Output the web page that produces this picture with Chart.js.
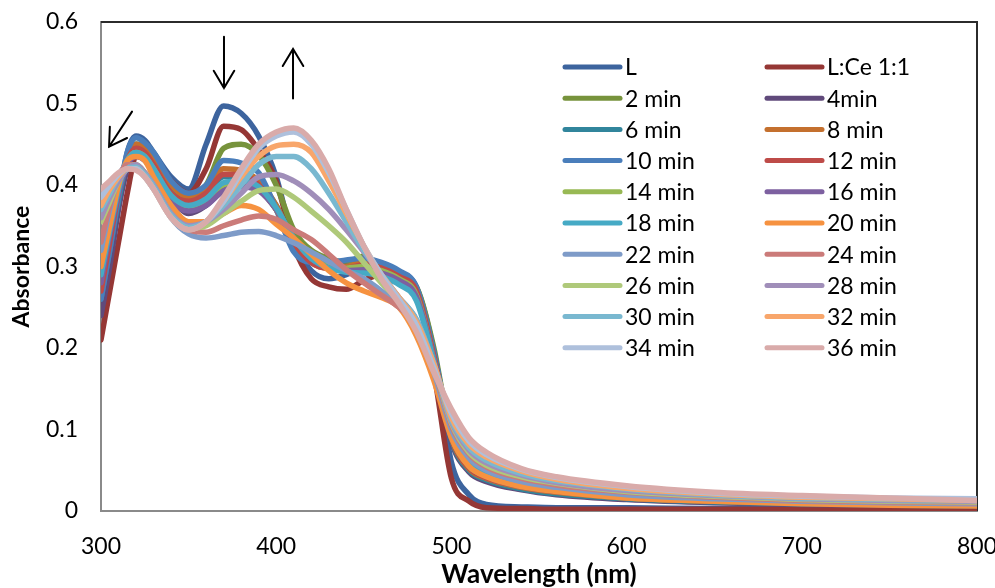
<!DOCTYPE html>
<html>
<head>
<meta charset="utf-8">
<script src="https://cdn.jsdelivr.net/npm/chart.js@4.4.1/dist/chart.umd.min.js"></script>
<style>
  html, body { margin: 0; padding: 0; background: #ffffff; }
  #wrap { width: 995px; height: 588px; }
</style>
</head>
<body>
<div id="wrap"><canvas id="spectra" width="995" height="588"></canvas></div>
<script>
// wavelengths (nm) shared by every spectrum
const wavelengths = [300, 305, 310, 315, 320, 325, 330, 340, 350, 360, 370, 380, 390, 400, 410, 420, 430, 440, 450, 460, 470, 480, 490, 500, 510, 520, 540, 560, 600, 650, 700, 750, 800];

// absorbance per spectrum
const absL   = [0.25, 0.31, 0.38, 0.44, 0.46, 0.455, 0.44, 0.41, 0.395, 0.45, 0.497, 0.488, 0.46, 0.41, 0.33, 0.295, 0.285, 0.29, 0.30, 0.302, 0.293, 0.275, 0.195, 0.06, 0.02, 0.008, 0.005, 0.004, 0.004, 0.003, 0.003, 0.003, 0.003];
const absLCe = [0.21, 0.27, 0.33, 0.39, 0.44, 0.45, 0.435, 0.405, 0.39, 0.42, 0.472, 0.468, 0.443, 0.405, 0.325, 0.285, 0.275, 0.272, 0.283, 0.29, 0.285, 0.27, 0.17, 0.04, 0.012, 0.004, 0.003, 0.002, 0.002, 0.002, 0.002, 0.002, 0.002];
const abs2   = [0.26, 0.32, 0.38, 0.43, 0.45, 0.445, 0.43, 0.40, 0.385, 0.40, 0.445, 0.45, 0.437, 0.40, 0.345, 0.32, 0.31, 0.305, 0.313, 0.297, 0.287, 0.275, 0.20, 0.09, 0.052, 0.04, 0.028, 0.022, 0.016, 0.012, 0.009, 0.007, 0.006];
const abs4   = [0.24, 0.30, 0.37, 0.42, 0.44, 0.435, 0.42, 0.385, 0.365, 0.375, 0.395, 0.40, 0.395, 0.37, 0.33, 0.31, 0.30, 0.30, 0.302, 0.298, 0.287, 0.27, 0.19, 0.085, 0.048, 0.036, 0.026, 0.02, 0.014, 0.01, 0.008, 0.007, 0.006];
const abs6   = [0.26, 0.32, 0.38, 0.43, 0.45, 0.445, 0.43, 0.395, 0.38, 0.39, 0.41, 0.41, 0.40, 0.375, 0.33, 0.31, 0.302, 0.30, 0.305, 0.30, 0.29, 0.272, 0.195, 0.088, 0.05, 0.038, 0.027, 0.021, 0.015, 0.011, 0.009, 0.008, 0.007];
const abs8   = [0.27, 0.33, 0.39, 0.435, 0.45, 0.445, 0.43, 0.40, 0.385, 0.395, 0.42, 0.418, 0.405, 0.375, 0.33, 0.305, 0.298, 0.30, 0.305, 0.30, 0.29, 0.27, 0.19, 0.09, 0.052, 0.04, 0.029, 0.023, 0.016, 0.012, 0.01, 0.008, 0.007];
const abs10  = [0.26, 0.32, 0.385, 0.44, 0.458, 0.452, 0.44, 0.405, 0.39, 0.40, 0.43, 0.427, 0.415, 0.37, 0.318, 0.305, 0.305, 0.308, 0.31, 0.305, 0.295, 0.275, 0.195, 0.092, 0.054, 0.041, 0.03, 0.024, 0.017, 0.013, 0.01, 0.009, 0.008];
const abs12  = [0.27, 0.33, 0.39, 0.43, 0.445, 0.44, 0.425, 0.39, 0.38, 0.39, 0.413, 0.413, 0.40, 0.37, 0.33, 0.305, 0.298, 0.298, 0.302, 0.298, 0.288, 0.27, 0.19, 0.09, 0.053, 0.041, 0.03, 0.024, 0.017, 0.013, 0.01, 0.009, 0.008];
const abs14  = [0.29, 0.345, 0.395, 0.43, 0.44, 0.435, 0.42, 0.385, 0.372, 0.38, 0.40, 0.403, 0.395, 0.37, 0.335, 0.31, 0.30, 0.298, 0.30, 0.295, 0.285, 0.265, 0.185, 0.092, 0.055, 0.043, 0.031, 0.025, 0.018, 0.013, 0.011, 0.009, 0.008];
const abs16  = [0.28, 0.34, 0.39, 0.425, 0.435, 0.43, 0.415, 0.38, 0.368, 0.375, 0.393, 0.398, 0.393, 0.37, 0.335, 0.31, 0.298, 0.295, 0.296, 0.292, 0.283, 0.263, 0.185, 0.094, 0.057, 0.045, 0.033, 0.026, 0.019, 0.014, 0.011, 0.01, 0.009];
const abs18  = [0.29, 0.345, 0.395, 0.43, 0.44, 0.435, 0.42, 0.387, 0.375, 0.383, 0.403, 0.405, 0.398, 0.372, 0.335, 0.31, 0.298, 0.293, 0.292, 0.288, 0.278, 0.258, 0.183, 0.095, 0.058, 0.046, 0.034, 0.027, 0.02, 0.015, 0.012, 0.01, 0.009];
const abs20  = [0.30, 0.35, 0.40, 0.43, 0.435, 0.43, 0.41, 0.375, 0.355, 0.355, 0.365, 0.375, 0.37, 0.352, 0.335, 0.315, 0.295, 0.28, 0.27, 0.262, 0.25, 0.215, 0.16, 0.09, 0.055, 0.042, 0.03, 0.024, 0.016, 0.012, 0.009, 0.007, 0.006];
const abs22  = [0.32, 0.37, 0.41, 0.425, 0.425, 0.415, 0.40, 0.36, 0.34, 0.335, 0.338, 0.342, 0.343, 0.338, 0.329, 0.318, 0.306, 0.295, 0.285, 0.27, 0.252, 0.225, 0.17, 0.10, 0.065, 0.05, 0.036, 0.029, 0.02, 0.015, 0.012, 0.01, 0.009];
const abs24  = [0.33, 0.375, 0.41, 0.425, 0.425, 0.415, 0.40, 0.365, 0.345, 0.342, 0.35, 0.357, 0.362, 0.358, 0.345, 0.333, 0.315, 0.296, 0.28, 0.265, 0.25, 0.228, 0.175, 0.105, 0.07, 0.054, 0.04, 0.032, 0.023, 0.017, 0.013, 0.011, 0.01];
const abs26  = [0.355, 0.38, 0.405, 0.42, 0.425, 0.415, 0.40, 0.365, 0.347, 0.35, 0.365, 0.38, 0.393, 0.395, 0.385, 0.368, 0.35, 0.33, 0.305, 0.28, 0.258, 0.23, 0.178, 0.108, 0.072, 0.056, 0.042, 0.034, 0.024, 0.018, 0.014, 0.012, 0.011];
const abs28  = [0.36, 0.385, 0.405, 0.42, 0.425, 0.415, 0.40, 0.365, 0.35, 0.355, 0.37, 0.39, 0.41, 0.413, 0.405, 0.39, 0.37, 0.345, 0.318, 0.29, 0.262, 0.235, 0.18, 0.11, 0.075, 0.059, 0.044, 0.035, 0.025, 0.019, 0.015, 0.013, 0.012];
const abs30  = [0.37, 0.39, 0.41, 0.42, 0.422, 0.413, 0.398, 0.363, 0.348, 0.355, 0.375, 0.40, 0.425, 0.435, 0.435, 0.42, 0.39, 0.355, 0.32, 0.29, 0.262, 0.235, 0.18, 0.112, 0.078, 0.062, 0.046, 0.037, 0.027, 0.02, 0.016, 0.014, 0.013];
const abs32  = [0.375, 0.395, 0.41, 0.42, 0.42, 0.41, 0.395, 0.36, 0.345, 0.355, 0.38, 0.41, 0.435, 0.448, 0.45, 0.44, 0.405, 0.365, 0.325, 0.29, 0.262, 0.232, 0.18, 0.115, 0.082, 0.066, 0.049, 0.039, 0.028, 0.021, 0.017, 0.015, 0.013];
const abs34  = [0.385, 0.40, 0.413, 0.42, 0.42, 0.41, 0.395, 0.36, 0.345, 0.355, 0.38, 0.415, 0.445, 0.46, 0.465, 0.45, 0.415, 0.37, 0.325, 0.29, 0.26, 0.228, 0.175, 0.12, 0.086, 0.069, 0.051, 0.041, 0.03, 0.022, 0.018, 0.016, 0.015];
const abs36  = [0.395, 0.405, 0.415, 0.42, 0.418, 0.41, 0.395, 0.36, 0.345, 0.355, 0.385, 0.42, 0.45, 0.465, 0.47, 0.455, 0.42, 0.37, 0.325, 0.285, 0.255, 0.22, 0.17, 0.125, 0.09, 0.072, 0.052, 0.042, 0.031, 0.023, 0.019, 0.016, 0.013];

const seriesLabels = ['L', 'L:Ce 1:1', '2 min', '4min', '6 min', '8 min', '10 min', '12 min', '14 min', '16 min',
  '18 min', '20 min', '22 min', '24 min', '26 min', '28 min', '30 min', '32 min', '34 min', '36 min'];
const seriesValues = [absL, absLCe, abs2, abs4, abs6, abs8, abs10, abs12, abs14, abs16,
  abs18, abs20, abs22, abs24, abs26, abs28, abs30, abs32, abs34, abs36];
const seriesColors = ['#3d649e', '#953735', '#77933c', '#604a7b', '#31859c', '#c4702e', '#4a7ebb', '#be4b48', '#98b954', '#7d60a0',
  '#46aac5', '#f69240', '#7e9bc8', '#cb7b79', '#afc97a', '#a08eb9', '#79b8d0', '#f8a66b', '#aec0dc', '#d9abaa'];

// axis ticks
const xTickValues = [300, 400, 500, 600, 700, 800];
const yTickValues = [0, 0.1, 0.2, 0.3, 0.4, 0.5, 0.6];

// trend arrows, in (wavelength, absorbance): tail -> head
const trendArrows = [
  { from: [370.2, 0.582], to: [370.2, 0.519] },
  { from: [409.6, 0.506], to: [409.6, 0.567] },
  { from: [317.7, 0.490], to: [304.6, 0.447] }
];

const FONT = 'Lato, "Open Sans", sans-serif';

function buildDatasets() {
  return seriesLabels.map((label, i) => ({
    label,
    data: wavelengths.map((x, j) => ({ x, y: seriesValues[i][j] })),
    borderColor: seriesColors[i],
    backgroundColor: seriesColors[i],
    borderWidth: 5.5,
    borderCapStyle: 'round',
    borderJoinStyle: 'round',
    pointRadius: 0,
    cubicInterpolationMode: 'monotone',
    fill: false,
    // later samples are painted over earlier ones
    order: seriesLabels.length - i
  }));
}

// top and right edges of the plot frame
const plotFrame = {
  id: 'plotFrame',
  beforeDatasetsDraw(chart) {
    const { ctx, chartArea: a } = chart;
    ctx.save();
    ctx.strokeStyle = '#2b2b2b';
    ctx.lineWidth = 2;
    ctx.beginPath();
    ctx.moveTo(a.left, a.top);
    ctx.lineTo(a.right, a.top);
    ctx.lineTo(a.right, a.bottom);
    ctx.stroke();
    ctx.restore();
  }
};

const arrowMarks = {
  id: 'arrowMarks',
  afterDatasetsDraw(chart) {
    const { ctx, scales: { x, y } } = chart;
    ctx.save();
    ctx.strokeStyle = '#000';
    ctx.lineWidth = 2;
    ctx.lineCap = 'round';
    trendArrows.forEach((a) => {
      const x0 = x.getPixelForValue(a.from[0]);
      const y0 = y.getPixelForValue(a.from[1]);
      const x1 = x.getPixelForValue(a.to[0]);
      const y1 = y.getPixelForValue(a.to[1]);
      const ang = Math.atan2(y1 - y0, x1 - x0);
      const head = 20;
      const spread = 0.54;
      ctx.beginPath();
      ctx.moveTo(x0, y0);
      ctx.lineTo(x1, y1);
      ctx.moveTo(x1 - head * Math.cos(ang - spread), y1 - head * Math.sin(ang - spread));
      ctx.lineTo(x1, y1);
      ctx.lineTo(x1 - head * Math.cos(ang + spread), y1 - head * Math.sin(ang + spread));
      ctx.stroke();
    });
    ctx.restore();
  }
};

// two-column legend inside the plot
const sideLegend = {
  id: 'sideLegend',
  afterDraw(chart) {
    const { ctx } = chart;
    const colX = [565, 767];
    const lineLen = 55;
    const top = 67;
    const rowGap = 31.2;
    ctx.save();
    ctx.font = '23px ' + FONT;
    ctx.textBaseline = 'middle';
    ctx.fillStyle = '#000';
    ctx.lineCap = 'round';
    ctx.lineWidth = 5;
    chart.data.datasets.forEach((ds, i) => {
      const x0 = colX[i % 2];
      const yy = top + Math.floor(i / 2) * rowGap;
      ctx.strokeStyle = ds.borderColor;
      ctx.beginPath();
      ctx.moveTo(x0, yy);
      ctx.lineTo(x0 + lineLen, yy);
      ctx.stroke();
      ctx.fillText(ds.label, x0 + lineLen + 5, yy + 1);
    });
    ctx.restore();
  }
};

const chart = new Chart(document.getElementById('spectra').getContext('2d'), {
  type: 'line',
  data: { datasets: buildDatasets() },
  plugins: [plotFrame, arrowMarks, sideLegend],
  options: {
    responsive: false,
    animation: false,
    devicePixelRatio: 1,
    layout: { padding: { left: 0, right: 18, top: 22, bottom: 0 } },
    plugins: {
      legend: { display: false },
      tooltip: { enabled: false }
    },
    scales: {
      x: {
        type: 'linear',
        min: 300,
        max: 800,
        afterBuildTicks: (s) => { s.ticks = xTickValues.map((v) => ({ value: v })); },
        afterFit: (s) => { s.height = 77; s.paddingLeft = 0; s.paddingRight = 0; },
        grid: { display: false, drawTicks: false },
        border: { display: true, color: '#8a8a8a', width: 2 },
        ticks: { color: '#000', font: { family: FONT, size: 23 }, padding: 22, maxRotation: 0, autoSkip: false },
        title: { display: true, text: 'Wavelength (nm)', color: '#000', font: { family: FONT, size: 26, weight: 'bold', lineHeight: 1 }, padding: { top: 0, bottom: 0 } }
      },
      y: {
        min: 0,
        max: 0.6,
        afterBuildTicks: (s) => { s.ticks = yTickValues.map((v) => ({ value: v })); },
        afterFit: (s) => { s.width = 101; s.paddingTop = 0; s.paddingBottom = 0; },
        grid: { display: false, drawTicks: false },
        border: { display: true, color: '#8a8a8a', width: 2 },
        ticks: {
          color: '#000',
          font: { family: FONT, size: 23 },
          padding: 23,
          callback: (v) => (v === 0 ? '0' : v.toFixed(1))
        },
        title: { display: true, text: 'Absorbance', color: '#000', font: { family: FONT, size: 23, weight: 'bold', lineHeight: 1 }, padding: { top: 10, bottom: 0 } }
      }
    }
  }
});
</script>
</body>
</html>
